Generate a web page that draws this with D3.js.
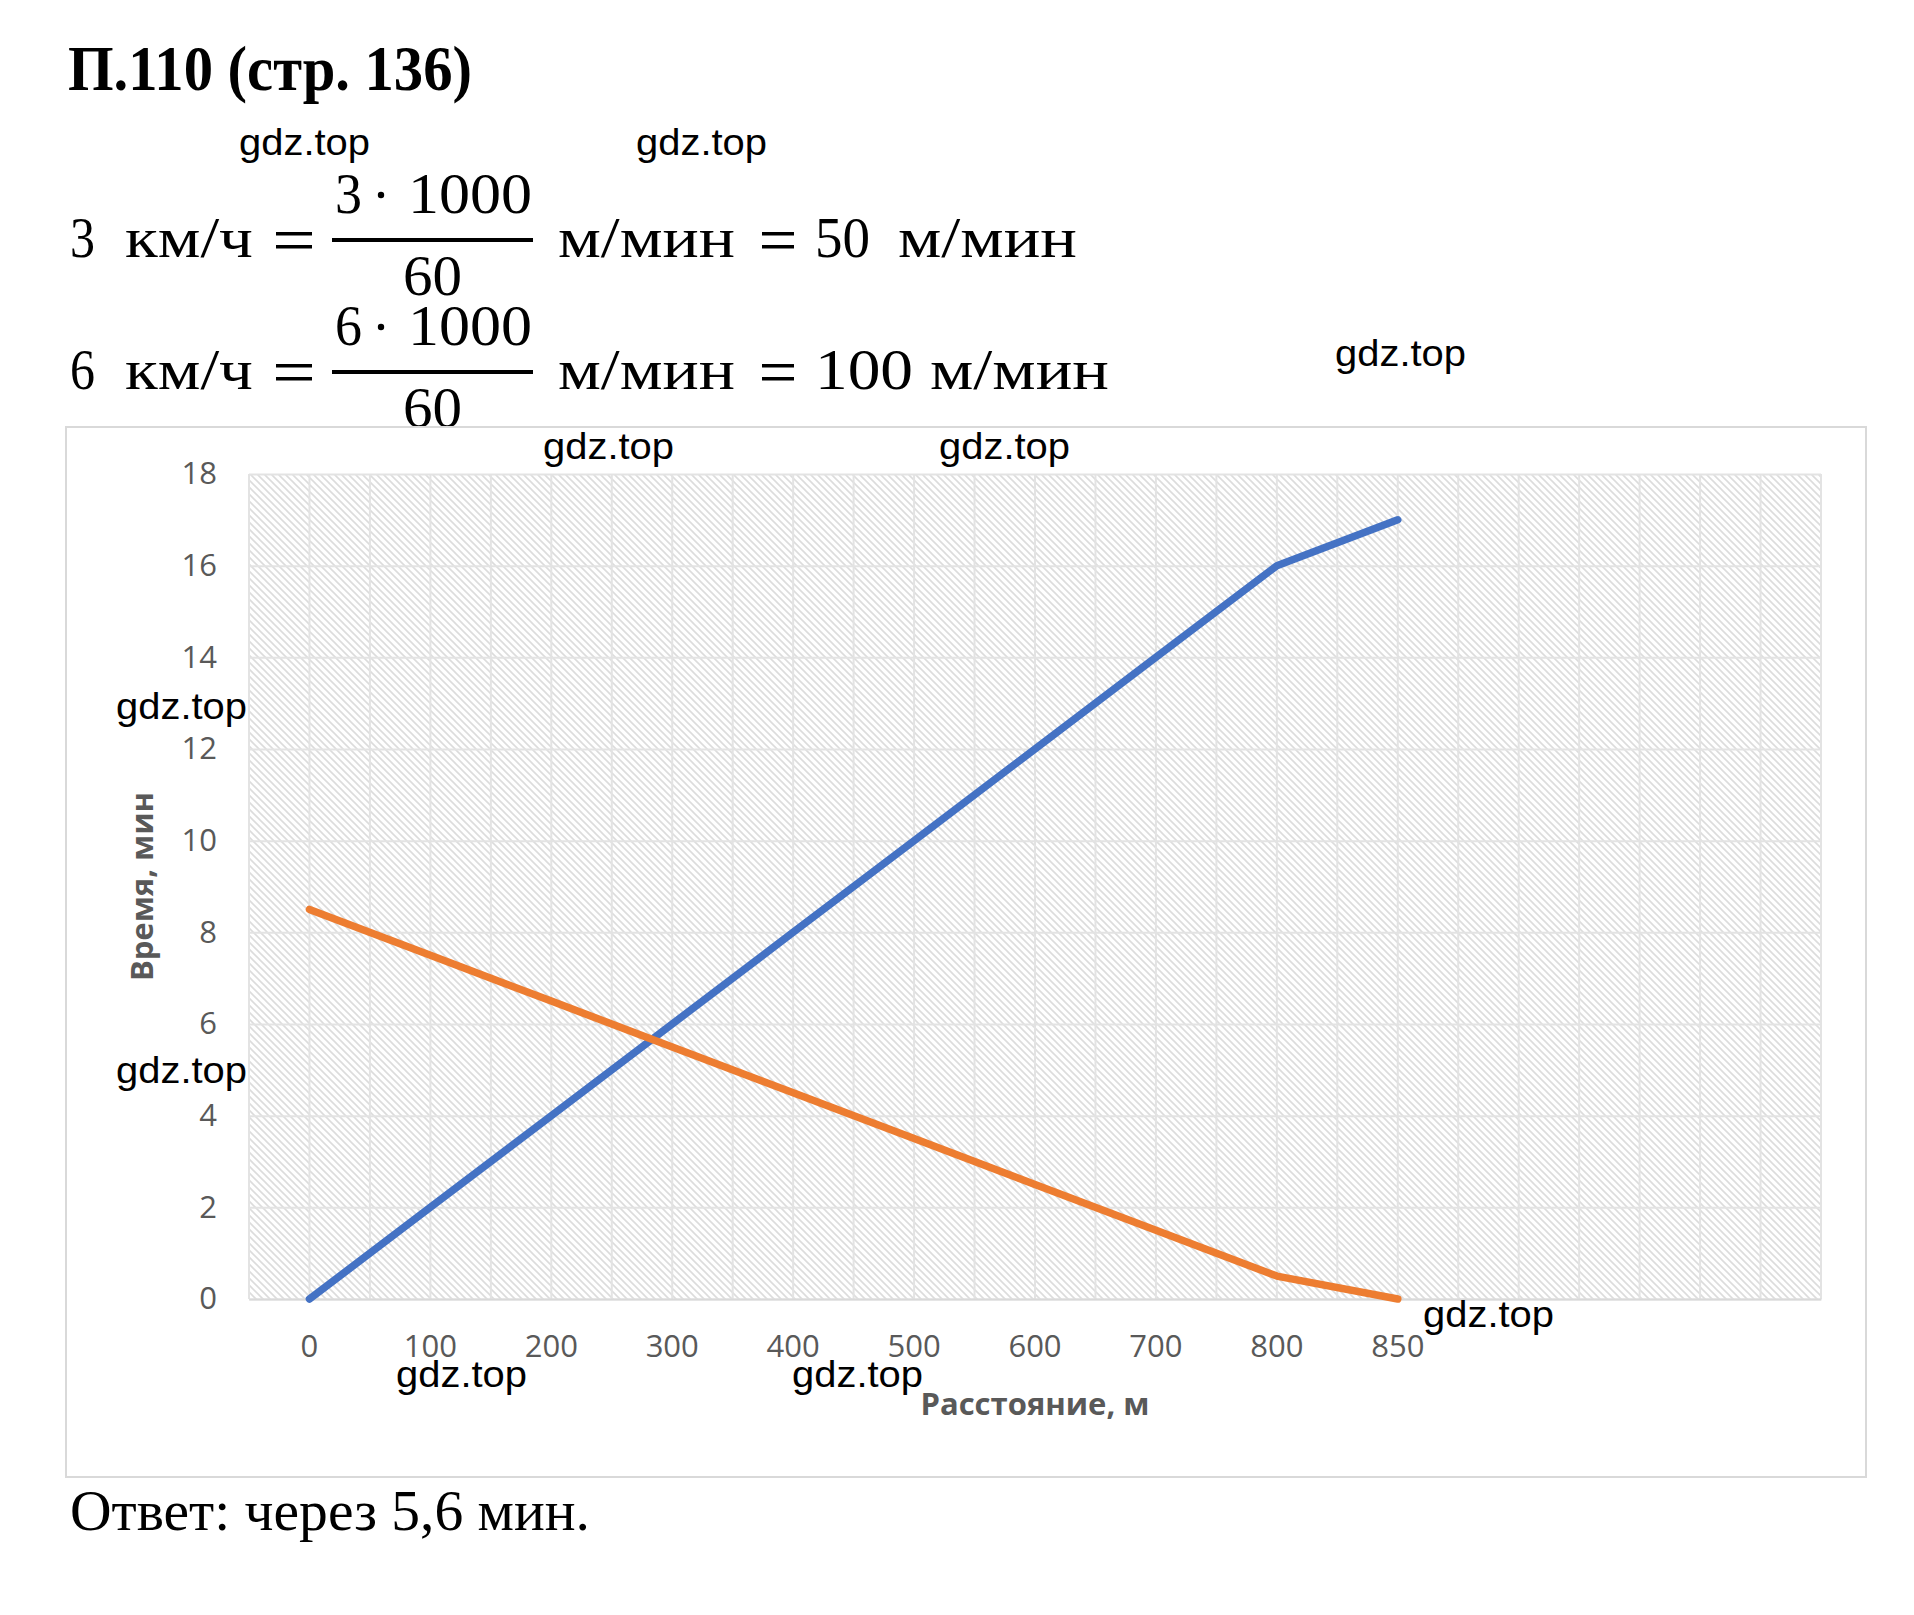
<!DOCTYPE html>
<html lang="ru">
<head>
<meta charset="UTF-8">
<script src="https://cdn.jsdelivr.net/npm/d3@7/dist/d3.min.js"></script>
<title>П.110</title>
<style>
  body { margin: 0; background: #fff; }
  svg { display: block; }
</style>
</head>
<body>
<script>
  // данные графика
  const distances = ["0", "100", "200", "300", "400", "500", "600", "700", "800", "850"]
  const emptySlots = 3                                      // пустые категории справа
  const timeWalk = [0, 2, 4, 6, 8, 10, 12, 14, 16, 17]      // 50 м/мин
  const timeRun = [8.5, 7.5, 6.5, 5.5, 4.5, 3.5, 2.5, 1.5, 0.5, 0] // 100 м/мин
  const yTicks = [0, 2, 4, 6, 8, 10, 12, 14, 16, 18]
  const speeds = [3, 6]
  const speedsMin = [50, 100]

  const width = 1914, height = 1615
  const svg = d3.select("body").append("svg").attr("width", width).attr("height", height)

  const serif = "'Liberation Serif', 'Times New Roman', serif"
  const sans = "'Open Sans', 'Noto Sans', sans-serif"

  // текст с заданной шириной
  function put(txt, x, y, size, len, opts = {}) {
    const t = svg.append("text")
      .attr("x", x).attr("y", y)
      .attr("font-family", opts.family || serif)
      .attr("font-size", size)
      .attr("font-weight", opts.weight || "normal")
      .attr("fill", opts.fill || "#000")
      .text(txt)
    if (len) t.attr("textLength", len).attr("lengthAdjust", "spacingAndGlyphs")
    return t
  }

  // заголовок
  put("П.110 (стр. 136)", 68, 90, 64, 404, { weight: "bold" })

  // формулы перевода скоростей
  const rowBar = [240, 372]
  speeds.forEach((s, i) => {
    const bar = rowBar[i]
    const base = bar + 17
    put(String(s), 70, base, 56, 25)
    put("км/ч", 125, base, 56, 128)
    svg.append("rect").attr("x", 276).attr("y", base - 25).attr("width", 36).attr("height", 3.5).attr("fill", "#000")
    svg.append("rect").attr("x", 276).attr("y", base - 12).attr("width", 36).attr("height", 3.5).attr("fill", "#000")
    put(String(s), 335, bar - 27, 56, 27)
    svg.append("circle").attr("cx", 381).attr("cy", bar - 45).attr("r", 3.2).attr("fill", "#000")
    put("1000", 408, bar - 27, 56, 124)
    svg.append("rect").attr("x", 332).attr("y", bar - 2).attr("width", 201).attr("height", 4).attr("fill", "#000")
    put("60", 403, bar + 55, 56, 59)
    put("м/мин", 558, base, 56, 177)
    svg.append("rect").attr("x", 762).attr("y", base - 25).attr("width", 32).attr("height", 3.5).attr("fill", "#000")
    svg.append("rect").attr("x", 762).attr("y", base - 12).attr("width", 32).attr("height", 3.5).attr("fill", "#000")
    const v = String(speedsMin[i])
    const vw = v.length === 2 ? 55 : 98
    put(v, 815, base, 56, vw)
    put("м/мин", v.length === 2 ? 898 : 930, base, 56, 179)
  })

  // рамка диаграммы
  svg.append("rect")
    .attr("x", 66).attr("y", 427).attr("width", 1800).attr("height", 1050)
    .attr("fill", "#fff").attr("stroke", "#d9d9d9").attr("stroke-width", 2)

  // область построения
  const plot = { left: 249, right: 1821, top: 474, bottom: 1299 }
  const pw = plot.right - plot.left, ph = plot.bottom - plot.top

  const cats = d3.range(distances.length + emptySlots)
  const x = d3.scaleBand().domain(cats).range([plot.left, plot.right]).padding(0)
  const y = d3.scaleLinear().domain([0, 18]).range([plot.bottom, plot.top])

  // штриховка
  const defs = svg.append("defs")
  const pat = defs.append("pattern")
    .attr("id", "hatch").attr("patternUnits", "userSpaceOnUse")
    .attr("width", 7).attr("height", 7)
  pat.append("rect").attr("width", 7).attr("height", 7).attr("fill", "#fff")
  pat.append("path")
    .attr("d", "M-1,-1 L8,8 M-1,6 L1,8 M6,-1 L8,1")
    .attr("stroke", "#dcdcdc").attr("stroke-width", 1.6)

  svg.append("rect")
    .attr("x", plot.left).attr("y", plot.top).attr("width", pw).attr("height", ph)
    .attr("fill", "url(#hatch)")

  // вертикальные линии сетки (границы и середины категорий)
  const half = d3.range(0, cats.length + 0.5, 0.5)
  svg.append("g").selectAll("line")
    .data(half)
    .enter()
    .append("line")
    .attr("x1", d => x.range()[0] + d * x.step())
    .attr("x2", d => x.range()[0] + d * x.step())
    .attr("y1", plot.top).attr("y2", plot.bottom)
    .attr("stroke", "#e3e3e3").attr("stroke-width", 2)

  // горизонтальные линии сетки + подписи оси Y
  const yAxis = d3.axisLeft(y).tickValues(yTicks).tickSize(-pw).tickPadding(32)
  const gy = svg.append("g").attr("transform", `translate(${plot.left},0)`).call(yAxis)
  gy.select(".domain").remove()
  gy.selectAll(".tick line").attr("stroke", "#e3e3e3").attr("stroke-width", 2)
  gy.selectAll(".tick text")
    .attr("font-family", sans).attr("font-size", 31).attr("fill", "#595959")

  // ось X
  const xAxis = d3.axisBottom(x).tickSize(0).tickPadding(36)
    .tickFormat(i => distances[i] || "")
  const gx = svg.append("g").attr("transform", `translate(0,${plot.bottom})`).call(xAxis)
  gx.select(".domain").attr("stroke", "#d9d9d9").attr("stroke-width", 2)
  gx.selectAll(".tick text")
    .attr("font-family", sans).attr("font-size", 31).attr("fill", "#595959")

  // линии
  const line = d3.line()
    .x((d, i) => x(i) + x.bandwidth() / 2)
    .y(d => y(d))

  svg.append("path").datum(timeWalk)
    .attr("d", line).attr("fill", "none")
    .attr("stroke", "#4472c4").attr("stroke-width", 7.5)
    .attr("stroke-linejoin", "round").attr("stroke-linecap", "round")

  svg.append("path").datum(timeRun)
    .attr("d", line).attr("fill", "none")
    .attr("stroke", "#ed7d31").attr("stroke-width", 7.5)
    .attr("stroke-linejoin", "round").attr("stroke-linecap", "round")

  // подписи осей
  svg.append("text")
    .attr("x", (plot.left + plot.right) / 2).attr("y", 1415)
    .attr("text-anchor", "middle")
    .attr("font-family", sans).attr("font-size", 31).attr("font-weight", "bold")
    .attr("fill", "#595959")
    .text("Расстояние, м")

  svg.append("text")
    .attr("transform", `translate(153,${(plot.top + plot.bottom) / 2}) rotate(-90)`)
    .attr("text-anchor", "middle")
    .attr("font-family", sans).attr("font-size", 31).attr("font-weight", "bold")
    .attr("fill", "#595959")
    .text("Время, мин")

  // ответ
  put("Ответ: через 5,6 мин.", 70, 1530, 58, 520)

  // водяные знаки
  const marks = [[239, 155], [636, 155], [1335, 366], [543, 459], [939, 459],
                 [116, 719], [116, 1083], [1423, 1327], [396, 1387], [792, 1387]]
  marks.forEach(m => {
    put("gdz.top", m[0], m[1], 37, 131, { family: "'Liberation Sans', Arial, sans-serif" })
  })
</script>
</body>
</html>
